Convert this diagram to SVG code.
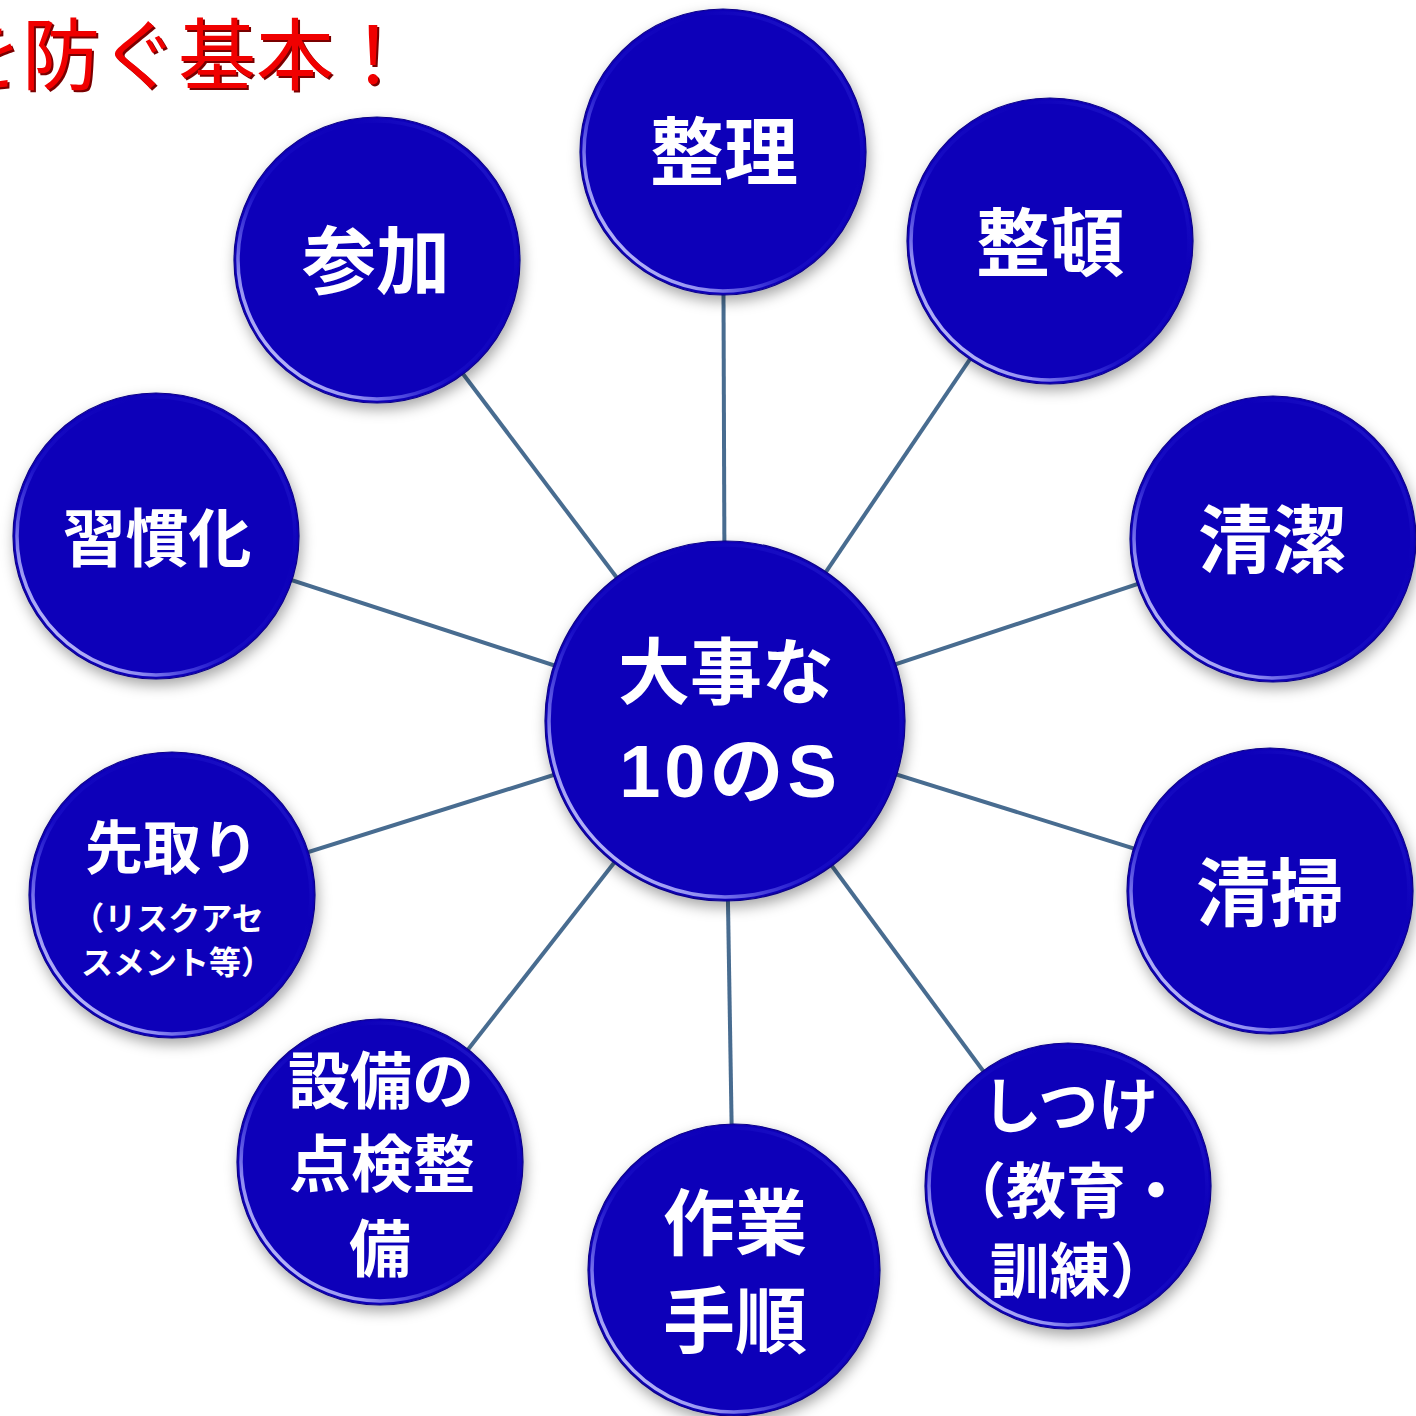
<svg xmlns="http://www.w3.org/2000/svg" width="1416" height="1416" viewBox="0 0 1416 1416">
<style>
.ball{fill:#0f00b9;stroke:#0a0088;stroke-width:1.2;filter:url(#sh)}
.rim{fill:none;stroke:url(#rimg);stroke-width:3.5}
.t{fill:#ffffff;font-family:"Noto Sans CJK JP","Noto Sans CJK SC",sans-serif;font-weight:bold;text-anchor:middle}
.d{font-family:"Liberation Sans","Noto Sans CJK JP",sans-serif}
.ln{stroke:#486c90;stroke-width:4;fill:none}
.title{font-family:"Noto Sans CJK JP","Noto Sans CJK SC",sans-serif;font-size:78px;font-weight:normal}
</style>
<defs>
<filter id="sh" x="-20%" y="-20%" width="150%" height="150%">
<feDropShadow dx="2" dy="6" stdDeviation="7" flood-color="#000" flood-opacity="0.35"/>
</filter>
<linearGradient id="rimg" x1="0" y1="1" x2="1" y2="0">
<stop offset="0" stop-color="#ffffff" stop-opacity="1"/>
<stop offset="0.22" stop-color="#b0b0ff" stop-opacity="0.8"/>
<stop offset="0.42" stop-color="#4a4aff" stop-opacity="0.15"/>
<stop offset="0.7" stop-color="#4a4aff" stop-opacity="0"/>
<stop offset="1" stop-color="#7070ff" stop-opacity="0.35"/>
</linearGradient>
</defs>
<rect width="1416" height="1416" fill="#ffffff"/>
<g id="title">
<text class="title" x="-54" y="86" fill="#7a0000">を防ぐ基本！</text>
<text class="title" x="-56" y="84" fill="#f00000">を防ぐ基本！</text>
</g>
<g id="connectors">
<line class="ln" x1="725" y1="721" x2="723" y2="152"/>
<line class="ln" x1="725" y1="721" x2="1050" y2="241"/>
<line class="ln" x1="725" y1="721" x2="1273" y2="539"/>
<line class="ln" x1="725" y1="721" x2="1270" y2="891"/>
<line class="ln" x1="725" y1="721" x2="1068" y2="1186"/>
<line class="ln" x1="725" y1="721" x2="734" y2="1270"/>
<line class="ln" x1="725" y1="721" x2="380" y2="1162"/>
<line class="ln" x1="725" y1="721" x2="172" y2="895"/>
<line class="ln" x1="725" y1="721" x2="156" y2="536"/>
<line class="ln" x1="725" y1="721" x2="377" y2="260"/>
</g>
<g id="n-seiri">
<circle class="ball" cx="723" cy="152" r="143"/><circle class="rim" cx="723" cy="152" r="139"/>
<text class="t" x="724" y="179" font-size="74">整理</text>
</g>
<g id="n-seiton">
<circle class="ball" cx="1050" cy="241" r="143"/><circle class="rim" cx="1050" cy="241" r="139"/>
<text class="t" x="1050" y="270" font-size="74">整頓</text>
</g>
<g id="n-seiketsu">
<circle class="ball" cx="1273" cy="539" r="143"/><circle class="rim" cx="1273" cy="539" r="139"/>
<text class="t" x="1272" y="567" font-size="74">清潔</text>
</g>
<g id="n-seisou">
<circle class="ball" cx="1270" cy="891" r="143"/><circle class="rim" cx="1270" cy="891" r="139"/>
<text class="t" x="1270" y="920" font-size="74">清掃</text>
</g>
<g id="n-shitsuke">
<circle class="ball" cx="1068" cy="1186" r="143"/><circle class="rim" cx="1068" cy="1186" r="139"/>
<text class="t" x="1070" y="1128" font-size="60">しつけ</text>
<text class="t" x="1066" y="1213" font-size="60">（教育・</text>
<text class="t" x="1080" y="1293" font-size="60">訓練）</text>
</g>
<g id="n-sagyou">
<circle class="ball" cx="734" cy="1270" r="146"/><circle class="rim" cx="734" cy="1270" r="142"/>
<text class="t" x="735" y="1249" font-size="72">作業</text>
<text class="t" x="735" y="1347" font-size="72">手順</text>
</g>
<g id="n-setsubi">
<circle class="ball" cx="380" cy="1162" r="143"/><circle class="rim" cx="380" cy="1162" r="139"/>
<text class="t" x="381" y="1104" font-size="62">設備の</text>
<text class="t" x="382" y="1187" font-size="62">点検整</text>
<text class="t" x="380" y="1272" font-size="62">備</text>
</g>
<g id="n-sakidori">
<circle class="ball" cx="172" cy="895" r="143"/><circle class="rim" cx="172" cy="895" r="139"/>
<text class="t" x="172" y="869" font-size="58">先取り</text>
<text class="t" x="168" y="930" font-size="32">（リスクアセ</text>
<text class="t" x="177" y="974" font-size="32">スメント等）</text>
</g>
<g id="n-shuukan">
<circle class="ball" cx="156" cy="536" r="143"/><circle class="rim" cx="156" cy="536" r="139"/>
<text class="t" x="157" y="561" font-size="63">習慣化</text>
</g>
<g id="n-sanka">
<circle class="ball" cx="377" cy="260" r="143"/><circle class="rim" cx="377" cy="260" r="139"/>
<text class="t" x="376" y="288" font-size="74">参加</text>
</g>
<g id="n-center">
<circle class="ball" cx="725" cy="721" r="180"/><circle class="rim" cx="725" cy="721" r="176"/>
<text class="t" x="726" y="698" font-size="72">大事な</text>
<text class="t d" x="730" y="797" font-size="74" letter-spacing="4">10のS</text>
</g>
</svg>
